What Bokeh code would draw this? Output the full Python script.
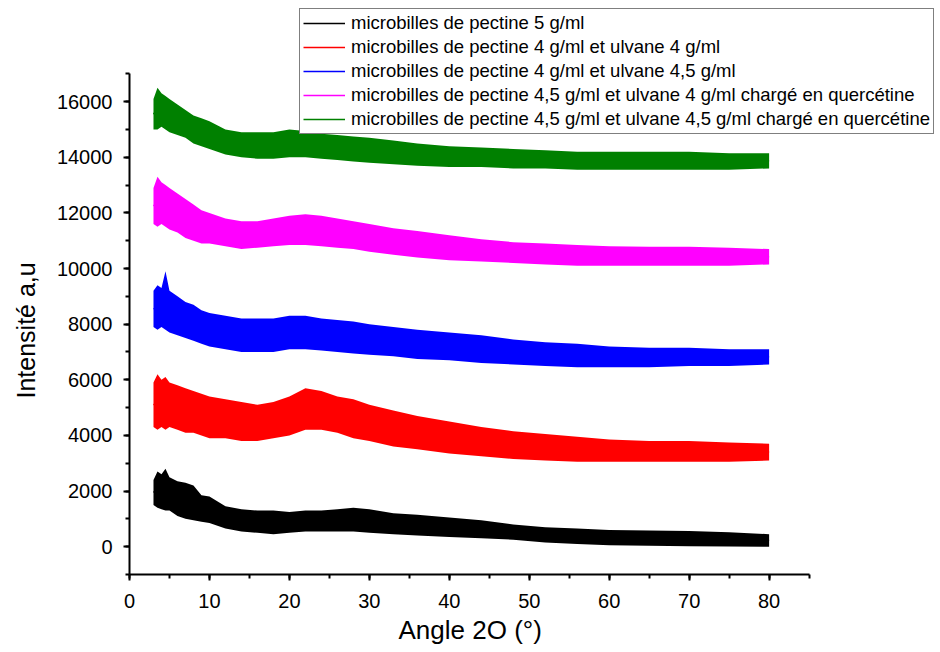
from bokeh.plotting import figure
from bokeh.models import Range1d, SingleIntervalTicker, Legend, LegendItem, Title
from bokeh.embed import file_html
from bokeh.resources import INLINE

# 2-theta angles (deg) at which the envelope of each noisy trace was read
angle = [3, 3.5, 4, 4.5, 5, 6, 7, 8, 9, 10, 12, 14, 16, 18, 20, 22, 24, 26, 28, 30,
         33, 36, 40, 44, 48, 52, 56, 60, 65, 70, 75, 80]

labels = [
    "microbilles de pectine 5 g/ml",
    "microbilles de pectine 4 g/ml et ulvane 4 g/ml",
    "microbilles de pectine 4 g/ml et ulvane 4,5 g/ml",
    "microbilles de pectine 4,5 g/ml et ulvane 4 g/ml chargé en quercétine",
    "microbilles de pectine 4,5 g/ml et ulvane 4,5 g/ml chargé en quercétine",
]
colors = ["#000000", "#FF0000", "#0000FF", "#FF00FF", "#008000"]

# lower / upper envelope of each trace (intensity a.u.)
black_lo = [1500, 1400, 1350, 1300, 1300, 1100, 1000, 950, 900, 850, 650, 550, 500, 450, 500, 550,
            550, 550, 550, 500, 450, 400, 350, 300, 250, 150, 100, 50, 30, 20, 10, 0]
black_hi = [2400, 2700, 2600, 2800, 2500, 2350, 2300, 2200, 1850, 1800, 1450, 1350, 1300, 1300, 1250, 1300,
            1300, 1350, 1400, 1350, 1200, 1150, 1050, 950, 800, 700, 650, 600, 580, 560, 520, 450]

red_lo = [4300, 4200, 4300, 4200, 4300, 4200, 4100, 4100, 4000, 3900, 3900, 3800, 3800, 3900, 4000, 4200,
          4200, 4100, 3900, 3800, 3600, 3500, 3350, 3250, 3150, 3100, 3050, 3050, 3050, 3050, 3050, 3100]
red_hi = [5900, 6200, 6000, 6100, 5900, 5800, 5700, 5600, 5500, 5400, 5300, 5200, 5100, 5200, 5400, 5700,
          5600, 5400, 5300, 5100, 4900, 4700, 4500, 4300, 4150, 4050, 3950, 3850, 3800, 3800, 3750, 3700]

blue_lo = [7900, 7800, 7900, 7800, 7700, 7600, 7500, 7400, 7300, 7200, 7100, 7000, 7000, 7000, 7100, 7100,
           7050, 7000, 6950, 6900, 6850, 6750, 6700, 6600, 6550, 6500, 6450, 6450, 6450, 6500, 6500, 6550]
blue_hi = [9200, 9400, 9300, 9900, 9200, 9000, 8800, 8700, 8500, 8400, 8300, 8200, 8200, 8200, 8300, 8300,
           8200, 8150, 8100, 8000, 7900, 7800, 7700, 7600, 7450, 7350, 7300, 7200, 7150, 7150, 7100, 7100]

magenta_lo = [11600, 11500, 11600, 11500, 11400, 11300, 11100, 11000, 10900, 10900, 10800, 10700, 10750,
              10800, 10850, 10850, 10800, 10750, 10700, 10600, 10500, 10400, 10300, 10250, 10200, 10150,
              10100, 10100, 10100, 10100, 10100, 10150]
magenta_hi = [12900, 13300, 13100, 13000, 12900, 12700, 12500, 12300, 12100, 12000, 11800, 11700, 11700,
              11800, 11900, 11950, 11900, 11800, 11700, 11600, 11450, 11350, 11200, 11050, 10950, 10900,
              10850, 10800, 10780, 10780, 10750, 10700]

green_lo = [15000, 15000, 15100, 15000, 14900, 14800, 14700, 14500, 14400, 14300, 14100, 14000, 13950,
            13950, 14000, 14000, 13950, 13900, 13850, 13800, 13750, 13700, 13650, 13650, 13600, 13600,
            13550, 13550, 13550, 13550, 13550, 13600]
green_hi = [16100, 16500, 16300, 16200, 16100, 15900, 15700, 15500, 15400, 15300, 15000, 14900, 14900,
            14900, 15000, 14950, 14850, 14800, 14750, 14700, 14600, 14500, 14400, 14350, 14300, 14250,
            14200, 14200, 14200, 14200, 14150, 14150]

# axis extents (drawn axes) and tick spacing
x_axis_bounds = (0, 85)
y_axis_bounds = (-1000, 17000)
x_ticks_interval = 10
y_ticks_interval = 2000
x_title = "Angle 2O (°)"
y_title = "Intensité a,u"

series = [(black_lo, black_hi), (red_lo, red_hi), (blue_lo, blue_hi),
          (magenta_lo, magenta_hi), (green_lo, green_hi)]

FONT = "Liberation Sans"

W, H = 936, 652
ML, MB = 126, 78
# the frame reaches the right/top canvas edges so that the legend is not clipped;
# the ranges keep the same px-per-unit scale as the drawn (bounded) axes
px_per_x = 8.025
px_per_y = 0.027813
x_end = (W - ML) / px_per_x
y_end = y_axis_bounds[0] + (H - MB) / px_per_y

p = figure(width=W, height=H, output_backend="svg", toolbar_location=None,
           x_range=Range1d(0, x_end), y_range=Range1d(y_axis_bounds[0], y_end),
           min_border_left=ML, min_border_right=0, min_border_top=0, min_border_bottom=MB)
p.outline_line_color = None
p.grid.visible = False
p.background_fill_color = "white"

items = []
for (lo, hi), col, lab in zip(series, colors, labels):
    p.varea(x=angle, y1=lo, y2=hi, fill_color=col, fill_alpha=1.0)
    mid = [(a + b) / 2 for a, b in zip(lo, hi)]
    r = p.line(angle, mid, line_color=col, line_width=1.5)
    items.append(LegendItem(label=lab, renderers=[r]))

p.xaxis.ticker = SingleIntervalTicker(interval=x_ticks_interval, num_minor_ticks=2)
p.yaxis.ticker = SingleIntervalTicker(interval=y_ticks_interval, num_minor_ticks=2)
p.xaxis.bounds = x_axis_bounds
p.yaxis.bounds = y_axis_bounds

for ax in (p.xaxis[0], p.yaxis[0]):
    ax.axis_line_width = 2
    ax.axis_line_color = "black"
    ax.major_tick_line_width = 2
    ax.minor_tick_line_width = 2
    ax.major_tick_line_color = "black"
    ax.minor_tick_line_color = "black"
    ax.major_tick_in = 0
    ax.major_tick_out = 6
    ax.minor_tick_in = 0
    ax.minor_tick_out = 4
    ax.major_label_text_font = FONT
    ax.major_label_text_font_size = "20px"
    ax.major_label_text_color = "black"

p.xaxis.major_label_standoff = 13
p.yaxis.major_label_standoff = 11

# axis titles placed along the drawn axis extents (not the enlarged frame)
xt = Title(text=x_title, align="left", offset=269, vertical_align="bottom", standoff=4,
           text_font=FONT, text_font_size="26px", text_font_style="normal", text_color="black")
p.add_layout(xt, "below")
yt = Title(text=y_title, align="left", offset=176, vertical_align="top", standoff=23,
           text_font=FONT, text_font_size="25px", text_font_style="normal", text_color="black")
p.add_layout(yt, "left")

legend = Legend(items=items, location=(170, 440),
                label_text_font=FONT, label_text_font_size="18.5px", label_text_color="black",
                glyph_width=42, glyph_height=20, label_height=20, label_standoff=6,
                padding=3, spacing=2, margin=0,
                border_line_color="black", border_line_width=1,
                background_fill_color="white", background_fill_alpha=1.0)
p.add_layout(legend)

open("out.html", "w").write(file_html(p, INLINE))
